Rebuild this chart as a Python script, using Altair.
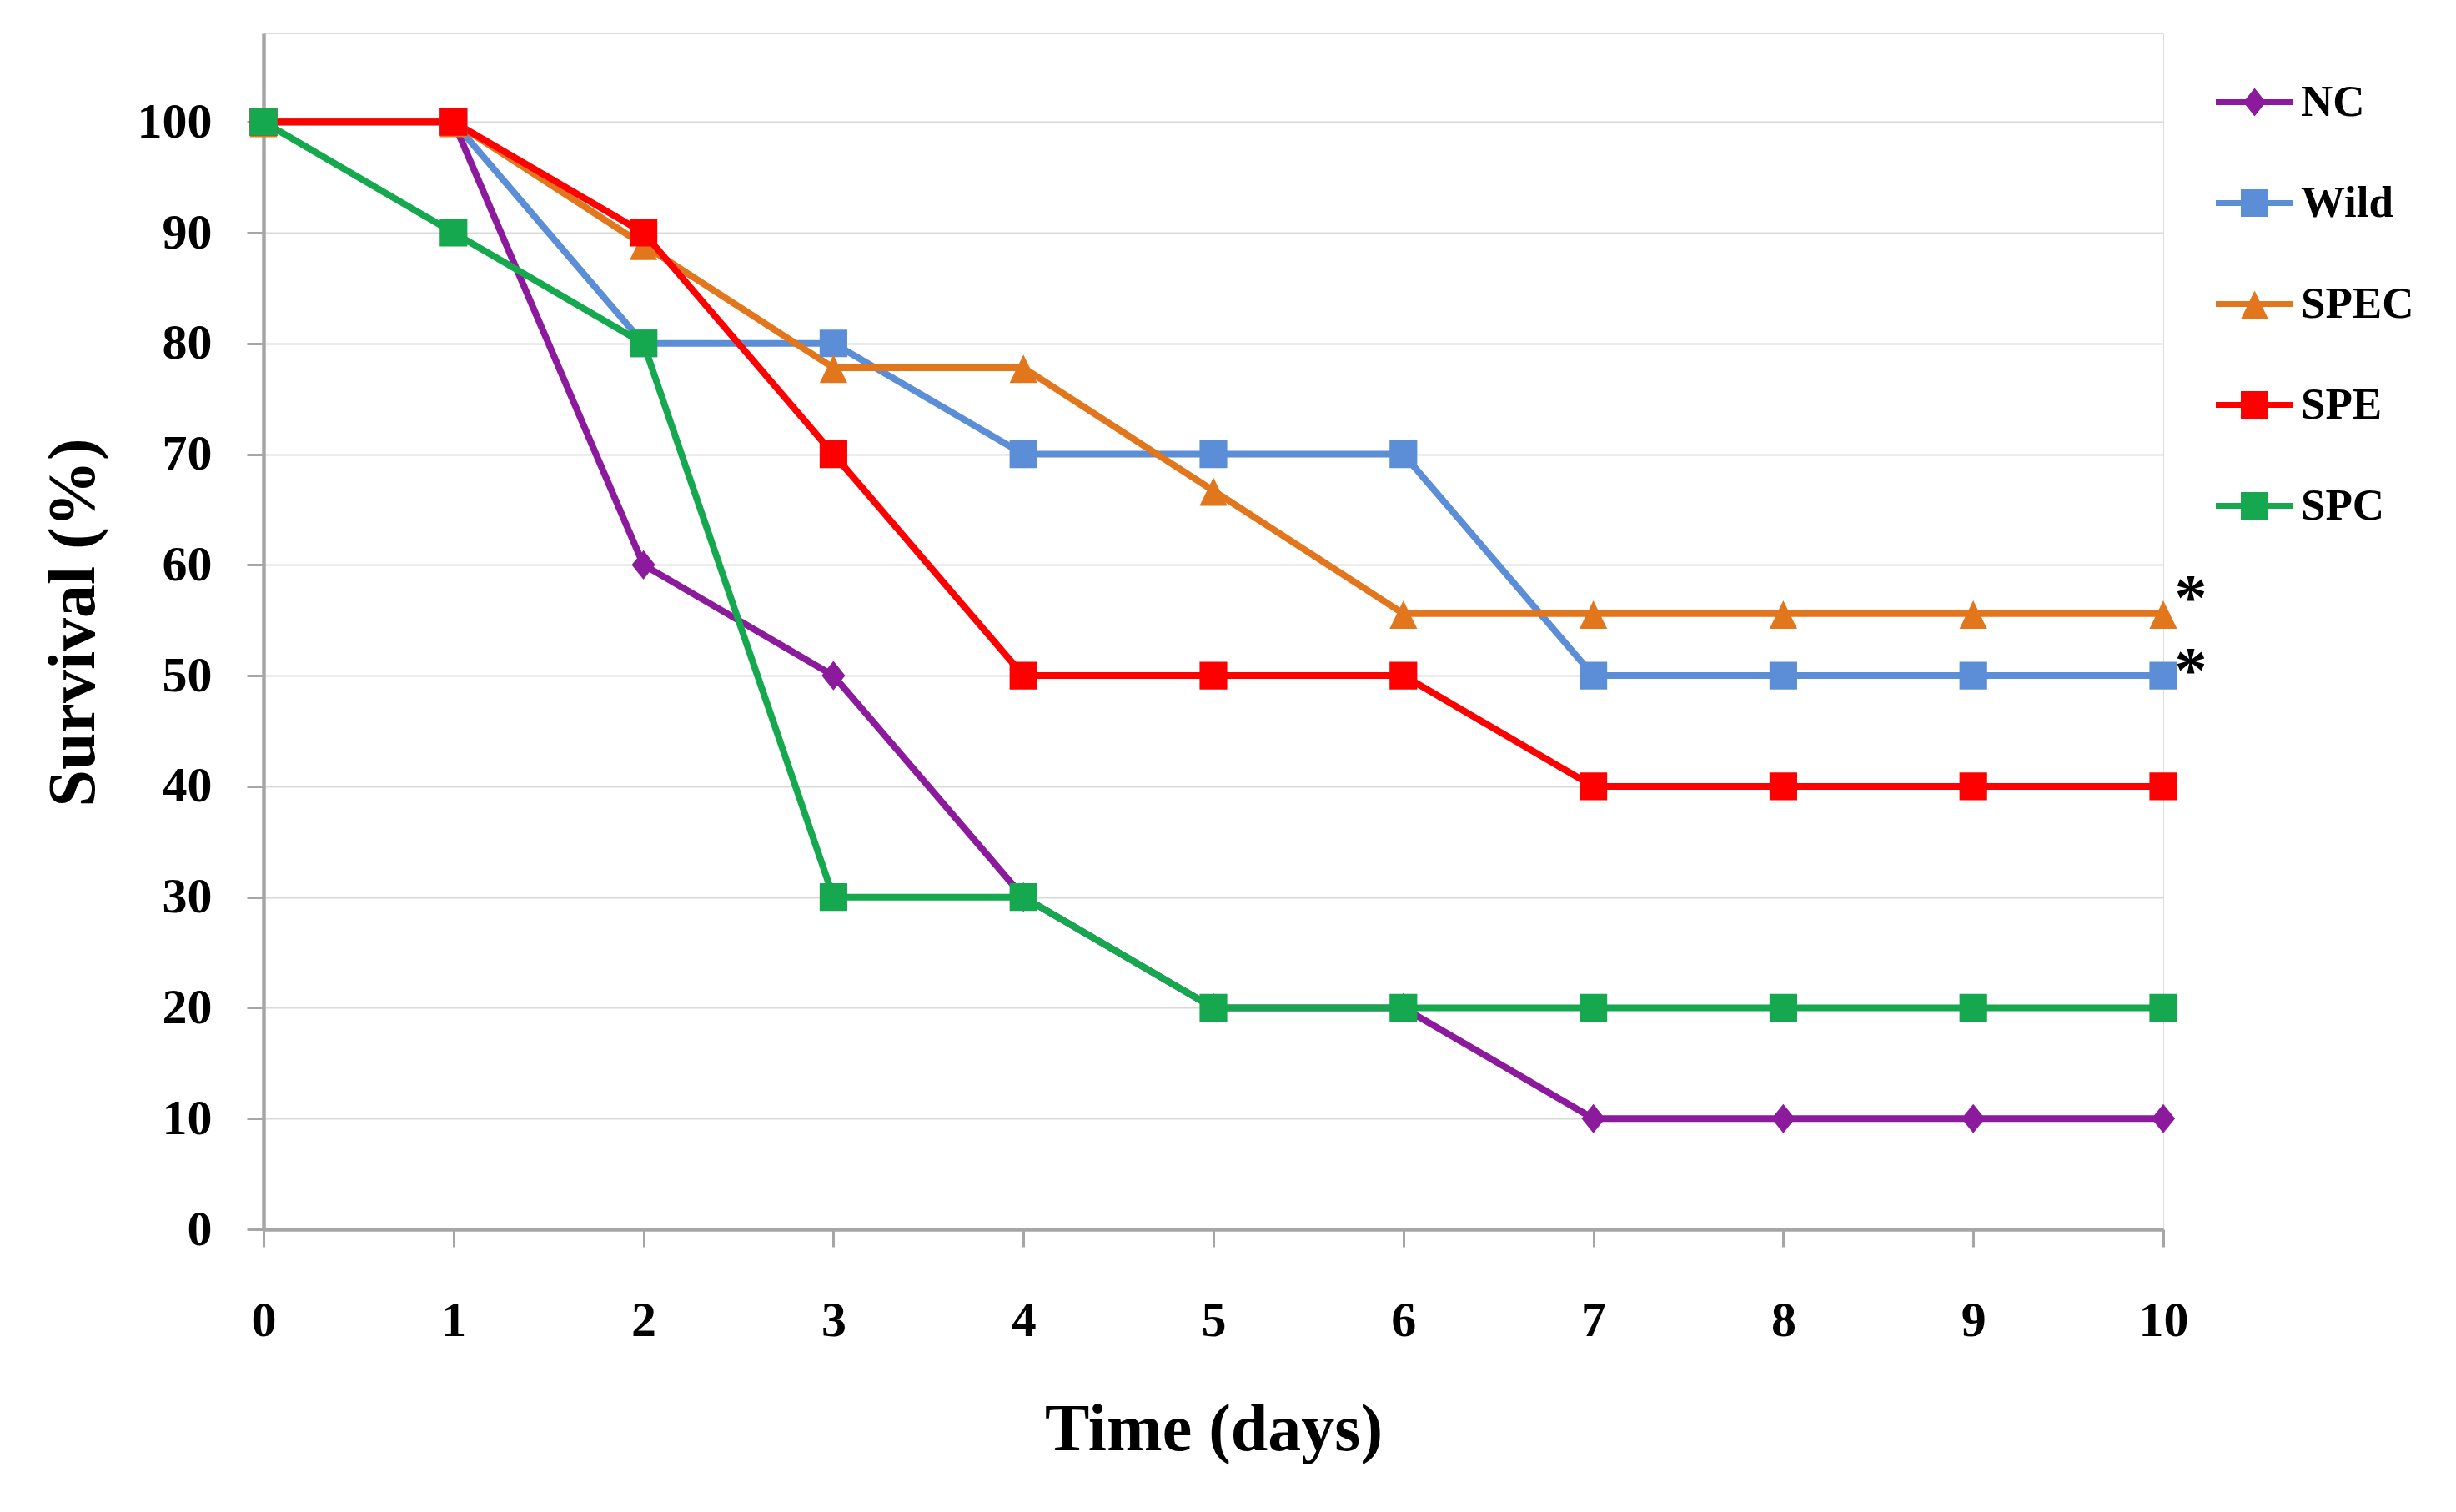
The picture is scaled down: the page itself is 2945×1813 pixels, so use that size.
import altair as alt
import pandas as pd

# ---- data ----
days = list(range(11))
series_names = ["NC", "Wild", "SPEC", "SPE", "SPC"]
nc_values = [100, 100, 60, 50, 30, 20, 20, 10, 10, 10, 10]
wild_values = [100, 100, 80, 80, 70, 70, 70, 50, 50, 50, 50]
spec_values = [100, 100, 88.9, 77.8, 77.8, 66.7, 55.6, 55.6, 55.6, 55.6, 55.6]
spe_values = [100, 100, 90, 70, 50, 50, 50, 40, 40, 40, 40]
spc_values = [100, 90, 80, 30, 30, 20, 20, 20, 20, 20, 20]
y_tick_values = list(range(0, 101, 10))
x_tick_values = days

star_series = ["SPEC", "Wild"]
star_days = [10, 10]
star_values = [55.6, 50]

# ---- styles ----
colors = ["#8B1A9C", "#5B8ED6", "#E2761C", "#FF0000", "#16A84E"]
FONT = "Liberation Serif"

# chart markers (unit = sqrt(size)/2 px)
SQUARE = "M-1,-1H1V1H-1Z"
DIAMOND = "M0,-1.06L0.85,0L0,1.06L-0.85,0Z"
TRIANGLE = "M0,-0.95L1,1.1L-1,1.1Z"
marker_paths = [DIAMOND, SQUARE, TRIANGLE, SQUARE, SQUARE]

# legend glyphs: line segment + marker (unit = 46.5 px, size 8649)
BAR = "M-1,-0.075H1V0.075H-1Z"
G_SQUARE = BAR + " M-0.355,-0.355H0.355V0.355H-0.355Z"
G_DIAMOND = BAR + " M0,-0.365L0.29,0L0,0.365L-0.29,0Z"
G_TRIANGLE = BAR + " M0,-0.345L0.355,0.39L-0.355,0.39Z"
glyph_paths = [G_DIAMOND, G_SQUARE, G_TRIANGLE, G_SQUARE, G_SQUARE]

rows = []
for name, vals in zip(series_names, [nc_values, wild_values, spec_values, spe_values, spc_values]):
    for d, v in zip(days, vals):
        rows.append({"series": name, "day": d, "survival": v})
df = pd.DataFrame(rows)

stars = pd.DataFrame({"series": star_series, "day": star_days, "survival": star_values})

W, H = 2278, 1434

x_enc = alt.X(
    "day:Q",
    scale=alt.Scale(domain=[0, 10], nice=False, zero=False),
    axis=alt.Axis(
        values=x_tick_values, format="d", grid=False,
        domainColor="#a6a6a6", domainWidth=4.5,
        tickColor="#a6a6a6", tickWidth=3, tickSize=21,
        labelFont=FONT, labelFontSize=60, labelFontWeight="bold", labelColor="black",
        labelBaseline="alphabetic", labelPadding=106, labelFlush=False, labelOverlap=False,
        title="Time (days)", titleFont=FONT, titleFontSize=80, titleFontWeight="bold",
        titleColor="black", titleBaseline="alphabetic", titleX=W / 2, titleY=264,
    ),
)
y_enc = alt.Y(
    "survival:Q",
    scale=alt.Scale(domain=[0, 108], nice=False),
    axis=alt.Axis(
        values=y_tick_values, format="d", grid=True,
        gridColor="#d9d9d9", gridWidth=2,
        domainColor="#a6a6a6", domainWidth=4.5,
        tickColor="#a6a6a6", tickWidth=3, tickSize=20,
        labelFont=FONT, labelFontSize=60, labelFontWeight="bold", labelColor="black",
        labelPadding=42, labelOverlap=False,
        title="Survival (%)", titleFont=FONT, titleFontSize=80, titleFontWeight="bold",
        titleColor="black", titleBaseline="alphabetic", titleAngle=270,
        titleX=-204, titleY=706,
    ),
)

color_scale = alt.Scale(domain=series_names, range=colors)

lines = alt.Chart(df).mark_line(strokeWidth=8).encode(
    x=x_enc, y=y_enc,
    color=alt.Color("series:N", scale=color_scale, legend=None),
)

markers = alt.Chart(df).mark_point(filled=True, size=1100, opacity=1, strokeWidth=0).encode(
    x=x_enc, y=y_enc,
    color=alt.Color("series:N", scale=color_scale, legend=None),
    shape=alt.Shape("series:N", scale=alt.Scale(domain=series_names, range=marker_paths), legend=None),
)

legend_props = dict(
    orient="none", legendX=2341, legendY=36, title=None, padding=0,
    rowPadding=47, labelFont=FONT, labelFontSize=53, labelFontWeight="bold",
    labelColor="black", labelOffset=9, symbolSize=8649, symbolStrokeWidth=0,
    symbolOpacity=1,
)

legend_layer = alt.Chart(df).transform_filter(alt.datum.day < 0).mark_point(
    filled=True, size=8649, strokeWidth=0, opacity=1
).encode(
    x=x_enc, y=y_enc,
    color=alt.Color("series:N", scale=color_scale, legend=alt.Legend(**legend_props)),
    shape=alt.Shape("series:N", scale=alt.Scale(domain=series_names, range=glyph_paths),
                    legend=alt.Legend(**legend_props)),
)

star_style = dict(text="*", font=FONT, fontSize=78, fontWeight="bold", color="black",
                  align="center", baseline="alphabetic", dx=33)
star_top = alt.Chart(stars).transform_filter(alt.datum.series == "SPEC").mark_text(
    dy=6, **star_style
).encode(x=x_enc, y=y_enc)
star_bottom = alt.Chart(stars).transform_filter(alt.datum.series == "Wild").mark_text(
    dy=19, **star_style
).encode(x=x_enc, y=y_enc)

chart = alt.layer(lines, markers, legend_layer, star_top, star_bottom).resolve_scale(
    color="independent", shape="independent"
).properties(
    width=W, height=H,
    autosize=alt.AutoSizeParams(type="none"),
    padding={"left": 308, "top": 32, "right": 340, "bottom": 320},
).configure_view(stroke=None).configure(background="white")

chart.save("out.html", embed_options={"renderer": "svg", "actions": False})
